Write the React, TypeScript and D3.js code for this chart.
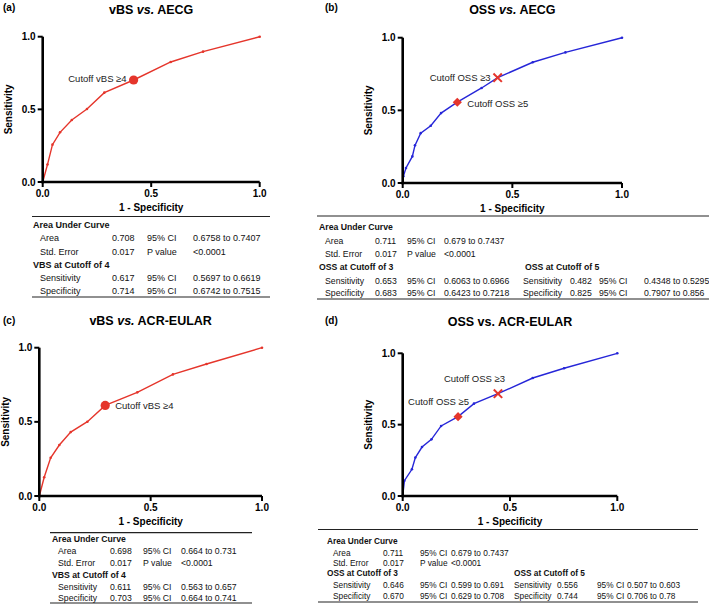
import React from 'react';
import * as d3 from 'd3';

const FONT = "'Liberation Sans', Arial, Helvetica, sans-serif";
const RED = '#e5352b';
const BLUE = '#2626d8';

// ---------- Data ----------
const tickValues = [0, 0.5, 1];
const tickLabels = ['0.0', '0.5', '1.0'];

const vbsAecgFpr = [0, 0.022, 0.045, 0.08, 0.134, 0.204, 0.284, 0.419, 0.59, 0.739, 1];
const vbsAecgSens = [0, 0.12, 0.257, 0.342, 0.427, 0.502, 0.615, 0.702, 0.826, 0.897, 1];

const ossAecgFpr = [0, 0.003, 0.015, 0.044, 0.056, 0.082, 0.128, 0.175, 0.249, 0.36, 0.433, 0.593, 0.742, 1];
const ossAecgSens = [0, 0.046, 0.103, 0.183, 0.259, 0.343, 0.394, 0.481, 0.556, 0.654, 0.725, 0.831, 0.899, 1];

const vbsAcrFpr = [0, 0.022, 0.051, 0.09, 0.141, 0.216, 0.296, 0.44, 0.6, 0.751, 1];
const vbsAcrSens = [0, 0.126, 0.258, 0.344, 0.431, 0.501, 0.611, 0.699, 0.82, 0.89, 1];

const ossAcrFpr = [0, 0.008, 0.043, 0.059, 0.09, 0.134, 0.179, 0.258, 0.332, 0.444, 0.606, 0.752, 1];
const ossAcrSens = [0, 0.107, 0.187, 0.269, 0.343, 0.397, 0.491, 0.556, 0.647, 0.717, 0.827, 0.895, 1];

// cutoffs: index into the curve arrays
const vbsAecgCutoffs = [{ i: 7, shape: 'circle', label: 'Cutoff vBS ≥4' }];
const ossAecgCutoffs = [
  { i: 10, shape: 'x', label: 'Cutoff OSS ≥3' },
  { i: 8, shape: 'diamond', label: 'Cutoff OSS ≥5' },
];
const vbsAcrCutoffs = [{ i: 6, shape: 'circle', label: 'Cutoff vBS ≥4' }];
const ossAcrCutoffs = [
  { i: 9, shape: 'x', label: 'Cutoff OSS ≥3' },
  { i: 7, shape: 'diamond', label: 'Cutoff OSS ≥5' },
];

const aucHeader = 'Area Under Curve';
const tableARows = [
  ['Area', '0.708', '95% CI', '0.6758 to 0.7407'],
  ['Std. Error', '0.017', 'P value', '<0.0001'],
];
const tableAHeader2 = 'VBS at Cutoff of 4';
const tableACut = [
  ['Sensitivity', '0.617', '95% CI', '0.5697 to 0.6619'],
  ['Specificity', '0.714', '95% CI', '0.6742 to 0.7515'],
];

const tableBRows = [
  ['Area', '0.711', '95% CI', '0.679 to 0.7437'],
  ['Std. Error', '0.017', 'P value', '<0.0001'],
];
const tableBHeader2 = 'OSS at Cutoff of 3';
const tableBCut = [
  ['Sensitivity', '0.653', '95% CI', '0.6063 to 0.6966'],
  ['Specificity', '0.683', '95% CI', '0.6423 to 0.7218'],
];
const tableBHeader3 = 'OSS at Cutoff of 5';
const tableBCut2 = [
  ['Sensitivity', '0.482', '95% CI', '0.4348 to 0.5295'],
  ['Specificity', '0.825', '95% CI', '0.7907 to 0.856'],
];

const tableCRows = [
  ['Area', '0.698', '95% CI', '0.664 to 0.731'],
  ['Std. Error', '0.017', 'P value', '<0.0001'],
];
const tableCHeader2 = 'VBS at Cutoff of 4';
const tableCCut = [
  ['Sensitivity', '0.611', '95% CI', '0.563 to 0.657'],
  ['Specificity', '0.703', '95% CI', '0.664 to 0.741'],
];

const tableDRows = [
  ['Area', '0.711', '95% CI', '0.679 to 0.7437'],
  ['Std. Error', '0.017', 'P value', '<0.0001'],
];
const tableDHeader2 = 'OSS at Cutoff of 3';
const tableDCut = [
  ['Sensitivity', '0.646', '95% CI', '0.599 to 0.691'],
  ['Specificity', '0.670', '95% CI', '0.629 to 0.708'],
];
const tableDHeader3 = 'OSS at Cutoff of 5';
const tableDCut2 = [
  ['Sensitivity', '0.556', '95% CI', '0.507 to 0.603'],
  ['Specificity', '0.744', '95% CI', '0.706 to 0.78'],
];

// ---------- Layout configs ----------
const panels = [
  {
    letter: '(a)', letterX: 3, letterY: 7,
    title: ['vBS ', 'vs.', ' AECG'], italicVs: true, titleY: 10,
    fpr: vbsAecgFpr, sens: vbsAecgSens, color: RED,
    cutoffs: vbsAecgCutoffs,
    labelOffsets: [{ dx: -7, dy: -1, anchor: 'end' }],
    box: { x0: 42.7, x1: 259.7, y0: 182, y1: 36.7 },
    table: {
      x1: 32, x2: 270, top: 216.5, bottom: 297, fs: 9,
      rowY: [225, 238, 252, 265, 278, 291],
      headX: 33, cols: [40, 112, 147, 193],
      rows: tableARows, header2: tableAHeader2, cut: tableACut,
    },
  },
  {
    letter: '(b)', letterX: 325, letterY: 7,
    title: ['OSS ', 'vs.', ' AECG'], italicVs: true, titleY: 10,
    fpr: ossAecgFpr, sens: ossAecgSens, color: BLUE,
    cutoffs: ossAecgCutoffs,
    labelOffsets: [{ dx: -7, dy: 0, anchor: 'end' }, { dx: 10, dy: 1, anchor: 'start' }],
    box: { x0: 402.7, x1: 622, y0: 183, y1: 37.7 },
    table: {
      x1: 317, x2: 709, top: 216, bottom: 299, fs: 8.7,
      rowY: [227, 241, 254, 266.5, 281, 293],
      headX: 319, cols: [325, 375, 407, 444],
      rows: tableBRows, header2: tableBHeader2, cut: tableBCut,
      head3X: 525, cols2: [523, 570, 599, 644], header3: tableBHeader3, cut2: tableBCut2,
    },
  },
  {
    letter: '(c)', letterX: 3, letterY: 320,
    title: ['vBS ', 'vs.', ' ACR-EULAR'], italicVs: true, titleY: 321,
    fpr: vbsAcrFpr, sens: vbsAcrSens, color: RED,
    cutoffs: vbsAcrCutoffs,
    labelOffsets: [{ dx: 10, dy: 0.5, anchor: 'start' }],
    box: { x0: 39.3, x1: 262, y0: 496, y1: 347.7 },
    table: {
      x1: 50, x2: 252, top: 532.7, bottom: 603, fs: 8.7,
      rowY: [539, 551, 563, 575, 587, 598],
      headX: 52, cols: [58, 110, 143, 181],
      rows: tableCRows, header2: tableCHeader2, cut: tableCCut,
    },
  },
  {
    letter: '(d)', letterX: 325, letterY: 320,
    title: ['OSS ', 'vs.', ' ACR-EULAR'], italicVs: false, titleY: 322,
    fpr: ossAcrFpr, sens: ossAcrSens, color: BLUE,
    cutoffs: ossAcrCutoffs,
    labelOffsets: [{ dx: -54, dy: -15, anchor: 'start' }, { dx: -50, dy: -15, anchor: 'start' }],
    box: { x0: 402.7, x1: 617.3, y0: 496, y1: 353.3 },
    table: {
      x1: 318, x2: 698, top: 529.5, bottom: 602, fs: 8.3,
      rowY: [541, 552.5, 562.5, 572.5, 584.5, 595.5],
      headX: 327, cols: [333, 383, 420, 451],
      rows: tableDRows, header2: tableDHeader2, cut: tableDCut,
      head3X: 514, cols2: [514, 557, 597, 627], header3: tableDHeader3, cut2: tableDCut2,
    },
  },
];

function Marker({ shape, cx, cy }: { shape: string; cx: number; cy: number }) {
  if (shape === 'circle') return <circle cx={cx} cy={cy} r={4.6} fill={RED} />;
  if (shape === 'x') {
    const s = 4.2;
    return (
      <g stroke={RED} strokeWidth={2}>
        <line x1={cx - s} y1={cy - s} x2={cx + s} y2={cy + s} />
        <line x1={cx - s} y1={cy + s} x2={cx + s} y2={cy - s} />
      </g>
    );
  }
  const path = d3.symbol(d3.symbolSquare, 42)() as string;
  return <path d={path} transform={`translate(${cx},${cy}) rotate(45)`} fill={RED} />;
}

function Table({ t }: { t: any }) {
  const rowsText = (row: string[], y: number, cols: number[], key: string) =>
    row.map((s, j) => (
      <text key={key + j} x={cols[j]} y={y} dominantBaseline="central">{s}</text>
    ));
  return (
    <g fontFamily={FONT} fontSize={t.fs} fill="#111">
      <line x1={t.x1} x2={t.x2} y1={t.top} y2={t.top} stroke="#222" strokeWidth={1.2} />
      <line x1={t.x1} x2={t.x2} y1={t.bottom} y2={t.bottom} stroke="#222" strokeWidth={1.2} />
      <text x={t.headX} y={t.rowY[0]} dominantBaseline="central" fontWeight="bold">{aucHeader}</text>
      {rowsText(t.rows[0], t.rowY[1], t.cols, 'r0')}
      {rowsText(t.rows[1], t.rowY[2], t.cols, 'r1')}
      <text x={t.headX} y={t.rowY[3]} dominantBaseline="central" fontWeight="bold">{t.header2}</text>
      {rowsText(t.cut[0], t.rowY[4], t.cols, 'c0')}
      {rowsText(t.cut[1], t.rowY[5], t.cols, 'c1')}
      {t.header3 && (
        <text x={t.head3X} y={t.rowY[3]} dominantBaseline="central" fontWeight="bold">{t.header3}</text>
      )}
      {t.cut2 && rowsText(t.cut2[0], t.rowY[4], t.cols2, 'd0')}
      {t.cut2 && rowsText(t.cut2[1], t.rowY[5], t.cols2, 'd1')}
    </g>
  );
}

function Panel({ p }: { p: any }) {
  const { box } = p;
  const x = d3.scaleLinear().domain([0, 1]).range([box.x0, box.x1]);
  const y = d3.scaleLinear().domain([0, 1]).range([box.y0, box.y1]);
  const pts: [number, number][] = p.fpr.map((f: number, i: number) => [f, p.sens[i]]);
  const line = d3.line<[number, number]>().x((d) => x(d[0])).y((d) => y(d[1]));
  const midX = (box.x0 + box.x1) / 2;
  const midY = (box.y0 + box.y1) / 2;
  return (
    <g>
      <text x={p.letterX} y={p.letterY} dominantBaseline="central" fontFamily={FONT} fontWeight="bold" fontSize={10}>
        {p.letter}
      </text>
      <text x={midX} y={p.titleY} textAnchor="middle" dominantBaseline="central" fontFamily={FONT} fontWeight="bold" fontSize={12.5}>
        <tspan>{p.title[0]}</tspan>
        <tspan fontStyle={p.italicVs ? 'italic' : 'normal'}>{p.title[1]}</tspan>
        <tspan>{p.title[2]}</tspan>
      </text>
      {/* curve */}
      <path d={line(pts) as string} fill="none" stroke={p.color} strokeWidth={1.4} />
      {pts.map((d, i) => (
        <circle key={i} cx={x(d[0])} cy={y(d[1])} r={1.3} fill={p.color} />
      ))}
      {/* axes */}
      <g stroke="#000">
        <line x1={box.x0} x2={box.x0} y1={y(0) + 1.25} y2={y(1)} strokeWidth={2.6} />
        <line x1={box.x0 - 1.25} x2={x(1)} y1={box.y0} y2={box.y0} strokeWidth={2.6} />
        {tickValues.map((v) => (
          <line key={'yt' + v} x1={box.x0 - 5} x2={box.x0} y1={y(v)} y2={y(v)} strokeWidth={2} />
        ))}
        {tickValues.map((v) => (
          <line key={'xt' + v} x1={x(v)} x2={x(v)} y1={box.y0} y2={box.y0 + 5} strokeWidth={2} />
        ))}
      </g>
      <g fontFamily={FONT} fontWeight="bold" fontSize={10} fill="#000">
        {tickValues.map((v, i) => (
          <text key={'yl' + v} x={box.x0 - 7} y={y(v)} textAnchor="end" dominantBaseline="central">{tickLabels[i]}</text>
        ))}
        {tickValues.map((v, i) => (
          <text key={'xl' + v} x={x(v)} y={box.y0 + 11.5} textAnchor="middle" dominantBaseline="central">{tickLabels[i]}</text>
        ))}
        <text x={midX} y={box.y0 + 25.5} textAnchor="middle" dominantBaseline="central">1 - Specificity</text>
        <text transform={`translate(${box.x0 - 34},${midY}) rotate(-90)`} textAnchor="middle" dominantBaseline="central">
          Sensitivity
        </text>
      </g>
      {/* cutoffs */}
      {p.cutoffs.map((c: any, k: number) => {
        const cx = x(p.fpr[c.i]);
        const cy = y(p.sens[c.i]);
        const o = p.labelOffsets[k];
        return (
          <g key={'c' + k}>
            <Marker shape={c.shape} cx={cx} cy={cy} />
            <text x={cx + o.dx} y={cy + o.dy} textAnchor={o.anchor} dominantBaseline="central" fontFamily={FONT} fontSize={9.5} fill="#222">
              {c.label}
            </text>
          </g>
        );
      })}
      <Table t={p.table} />
    </g>
  );
}

export default function App() {
  return (
    <svg width={709} height={604} style={{ position: 'absolute', left: 0, top: 0, background: '#fff' }}>
      <rect width={709} height={604} fill="#fff" />
      {panels.map((p, i) => (
        <Panel key={i} p={p} />
      ))}
    </svg>
  );
}
